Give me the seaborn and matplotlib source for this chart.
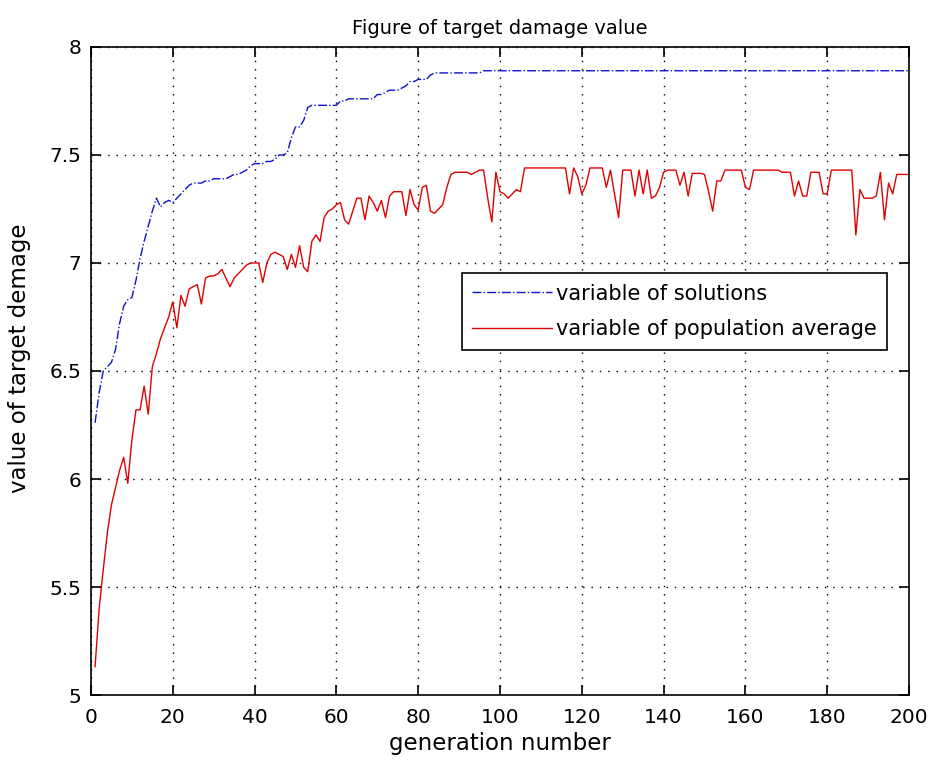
import numpy as np
import pandas as pd
import matplotlib
matplotlib.use("Agg")
import matplotlib.pyplot as plt
import seaborn as sns

# values, generations 1..200
generations = list(range(1, 201))

best_solution = [
    6.26, 6.40, 6.50, 6.52, 6.54, 6.60, 6.72, 6.80, 6.83, 6.84,
    6.92, 7.02, 7.10, 7.17, 7.24, 7.30, 7.26, 7.28, 7.29, 7.28,
    7.30, 7.32, 7.34, 7.36, 7.37, 7.37, 7.37, 7.38, 7.38, 7.39,
    7.39, 7.39, 7.39, 7.40, 7.41, 7.41, 7.42, 7.43, 7.45, 7.46,
    7.46, 7.46, 7.47, 7.47, 7.48, 7.50, 7.50, 7.51, 7.58, 7.63,
    7.63, 7.66, 7.72, 7.73, 7.73, 7.73, 7.73, 7.73, 7.73, 7.73,
    7.75, 7.75, 7.76, 7.76, 7.76, 7.76, 7.76, 7.76, 7.76, 7.78,
    7.78, 7.79, 7.80, 7.80, 7.80, 7.81, 7.82, 7.84, 7.84, 7.85,
    7.85, 7.85, 7.87, 7.88, 7.88, 7.88, 7.88, 7.88, 7.88, 7.88,
    7.88, 7.88, 7.88, 7.88, 7.88, 7.89, 7.89, 7.89, 7.89, 7.89,
    7.89, 7.89, 7.89, 7.89, 7.89, 7.89, 7.89, 7.89, 7.89, 7.89,
    7.89, 7.89, 7.89, 7.89, 7.89, 7.89, 7.89, 7.89, 7.89, 7.89,
    7.89, 7.89, 7.89, 7.89, 7.89, 7.89, 7.89, 7.89, 7.89, 7.89,
    7.89, 7.89, 7.89, 7.89, 7.89, 7.89, 7.89, 7.89, 7.89, 7.89,
    7.89, 7.89, 7.89, 7.89, 7.89, 7.89, 7.89, 7.89, 7.89, 7.89,
    7.89, 7.89, 7.89, 7.89, 7.89, 7.89, 7.89, 7.89, 7.89, 7.89,
    7.89, 7.89, 7.89, 7.89, 7.89, 7.89, 7.89, 7.89, 7.89, 7.89,
    7.89, 7.89, 7.89, 7.89, 7.89, 7.89, 7.89, 7.89, 7.89, 7.89,
    7.89, 7.89, 7.89, 7.89, 7.89, 7.89, 7.89, 7.89, 7.89, 7.89,
    7.89, 7.89, 7.89, 7.89, 7.89, 7.89, 7.89, 7.89, 7.89, 7.89,
]

population_average = [
    5.13, 5.40, 5.58, 5.75, 5.88, 5.96, 6.04, 6.10, 5.98, 6.18,
    6.32, 6.32, 6.43, 6.30, 6.52, 6.58, 6.65, 6.70, 6.75, 6.82,
    6.70, 6.85, 6.80, 6.88, 6.89, 6.90, 6.81, 6.93, 6.94, 6.94,
    6.95, 6.97, 6.93, 6.89, 6.93, 6.95, 6.97, 6.99, 7.00, 7.00,
    7.00, 6.91, 7.00, 7.04, 7.05, 7.04, 7.03, 6.97, 7.04, 6.98,
    7.08, 6.98, 6.96, 7.10, 7.13, 7.10, 7.21, 7.24, 7.25, 7.27,
    7.28, 7.20, 7.18, 7.24, 7.30, 7.30, 7.20, 7.31, 7.28, 7.24,
    7.29, 7.21, 7.31, 7.33, 7.33, 7.33, 7.22, 7.34, 7.27, 7.245,
    7.35, 7.36, 7.24, 7.23, 7.25, 7.27, 7.35, 7.41, 7.42, 7.42,
    7.42, 7.42, 7.41, 7.42, 7.43, 7.43, 7.30, 7.19, 7.42, 7.33,
    7.32, 7.30, 7.32, 7.34, 7.33, 7.44, 7.44, 7.44, 7.44, 7.44,
    7.44, 7.44, 7.44, 7.44, 7.44, 7.44, 7.32, 7.44, 7.40, 7.32,
    7.36, 7.44, 7.44, 7.44, 7.44, 7.35, 7.43, 7.32, 7.21, 7.43,
    7.43, 7.43, 7.31, 7.43, 7.32, 7.43, 7.30, 7.31, 7.35, 7.42,
    7.43, 7.43, 7.43, 7.36, 7.42, 7.31, 7.415, 7.415, 7.415, 7.41,
    7.33, 7.24, 7.38, 7.38, 7.43, 7.43, 7.43, 7.43, 7.43, 7.35,
    7.34, 7.43, 7.43, 7.43, 7.43, 7.43, 7.43, 7.43, 7.42, 7.42,
    7.42, 7.31, 7.38, 7.31, 7.31, 7.42, 7.42, 7.42, 7.32, 7.32,
    7.43, 7.43, 7.43, 7.43, 7.43, 7.43, 7.13, 7.34, 7.30, 7.30,
    7.30, 7.31, 7.42, 7.20, 7.37, 7.32, 7.41, 7.41, 7.41, 7.41,
]

df = pd.DataFrame({
    "generation": generations,
    "solutions": best_solution,
    "average": population_average,
})

sns.set_style("ticks")
plt.rcParams['font.family'] = ['DejaVu Sans']
plt.rcParams['text.color'] = 'black'
plt.rcParams['axes.labelcolor'] = 'black'

fig = plt.figure(figsize=(9.33, 7.64), dpi=100)
ax = fig.add_axes([0.0975, 0.0903, 0.8768, 0.8482])

sns.lineplot(data=df, x="generation", y="solutions", ax=ax, color="#1010d0",
             linestyle="-.", linewidth=1.0, label="variable of solutions")
sns.lineplot(data=df, x="generation", y="average", ax=ax, color="#e00000",
             linewidth=1.0, label="variable of population average")

ax.set_xlim(0, 200)
ax.set_ylim(5, 8)
ax.set_xticks(np.arange(0, 201, 20))
ax.set_yticks(np.arange(5, 8.01, 0.5))
ax.set_yticklabels(["5", "5.5", "6", "6.5", "7", "7.5", "8"])
ax.grid(True, color="black", linestyle=(0, (1, 5)), linewidth=1.0)
ax.tick_params(direction="in", top=True, right=True, length=7, width=1.2,
               labelsize=14.5, colors="black")
ax.tick_params(axis="x", pad=9)
ax.tick_params(axis="y", pad=7)
for side in ax.spines.values():
    side.set_color("black")
    side.set_linewidth(1.2)

ax.set_title("Figure of target damage value", fontsize=14, pad=9)
ax.set_xlabel("generation number", fontsize=16.5, labelpad=4)
ax.set_ylabel("value of target demage", fontsize=16.5)
ax.yaxis.set_label_coords(-0.073, 0.52)

leg = ax.legend(loc="upper right", bbox_to_anchor=(0.973, 0.651), fontsize=15,
                fancybox=False, framealpha=1, edgecolor="black",
                handlelength=3.8, handletextpad=0.2, borderpad=0.5,
                labelspacing=0.75, borderaxespad=0)
leg.get_frame().set_linewidth(1.2)

plt.savefig("out.png", dpi=100)
